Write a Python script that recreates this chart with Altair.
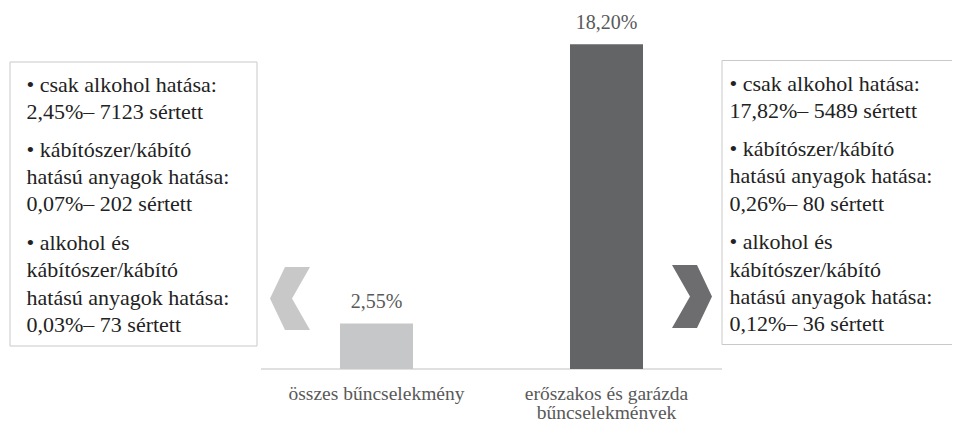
import altair as alt
import pandas as pd

# ---- data ----
categories = ["összes bűncselekmény", "erőszakos és garázda\nbűncselekmények"]
shares = [2.55, 18.20]

left_paras = [
    ["• csak alkohol hatása:", "2,45%– 7123 sértett"],
    ["• kábítószer/kábító", "hatású anyagok hatása:", "0,07%– 202 sértett"],
    ["• alkohol és", "kábítószer/kábító", "hatású anyagok hatása:", "0,03%– 73 sértett"],
]
right_paras = [
    ["• csak alkohol hatása:", "17,82%– 5489 sértett"],
    ["• kábítószer/kábító", "hatású anyagok hatása:", "0,26%– 80 sértett"],
    ["• alkohol és", "kábítószer/kábító", "hatású anyagok hatása:", "0,12%– 36 sértett"],
]

bar_colors = ["#c6c7c9", "#636466"]

# ---- tables ----
bars_df = pd.DataFrame({"cat": categories, "share": shares})
bars_df["label"] = [f"{v:.2f}".replace(".", ",") + "%" for v in shares]
one = pd.DataFrame({"share": [0]})

W, H = 944, 411
FONT = "Liberation Serif"
LABEL_GRAY = "#595959"
TEXT_DARK = "#222222"

x_scale = alt.Scale(domain=categories, range=[253.5, 713.5],
                    paddingInner=0.6826, paddingOuter=0.3413)
y_scale = alt.Scale(domain=[0, 20], range=[361, 4])
x_enc = alt.X("cat:N", scale=x_scale, axis=None)
y_enc = alt.Y("share:Q", scale=y_scale, axis=None)

layers = []

# boxes
layers.append(alt.Chart(one).mark_rect(fill="white", stroke="#c9c9c9", strokeWidth=1).encode(
    x=alt.value(2), x2=alt.value(249), y=alt.value(54), y2=alt.value(338)))
layers.append(alt.Chart(one).mark_rect(fill="white", stroke="#c9c9c9", strokeWidth=1).encode(
    x=alt.value(714), x2=alt.value(960), y=alt.value(52.5), y2=alt.value(336.5)))

# baseline
layers.append(alt.Chart(one).mark_rule(color="#d6d6d6", strokeWidth=1.5).encode(
    x=alt.value(253), x2=alt.value(714), y=y_enc))

# bars
layers.append(alt.Chart(bars_df).mark_bar().encode(
    x=x_enc, y=y_enc,
    color=alt.Color("cat:N", scale=alt.Scale(domain=categories, range=bar_colors), legend=None)))

# value labels
layers.append(alt.Chart(bars_df).mark_text(
    baseline="alphabetic", dy=-15.5, fontSize=20, font=FONT, color=LABEL_GRAY).encode(
    x=x_enc, y=y_enc, text="label:N"))

# category labels
layers.append(alt.Chart(bars_df).mark_text(
    baseline="alphabetic", lineBreak="\n", lineHeight=19.5, fontSize=19.5,
    font=FONT, color=LABEL_GRAY).encode(
    x=x_enc, y=alt.value(391.5), text="cat:N"))

# chevrons
left_chev = "M-0.156,-0.984L0.625,-0.984L0.0625,0L0.625,0.984L-0.156,0.984L-0.625,0Z"
right_chev = "M0.156,-0.984L-0.625,-0.984L-0.0625,0L-0.625,0.984L0.156,0.984L0.625,0Z"
layers.append(alt.Chart(one).mark_point(shape=left_chev, size=4096, filled=True,
                                         fill="#c8c8c8", opacity=1, strokeWidth=0).encode(
    x=alt.value(282), y=alt.value(290.5)))
layers.append(alt.Chart(one).mark_point(shape=right_chev, size=4096, filled=True,
                                         fill="#6d6d70", opacity=1, strokeWidth=0).encode(
    x=alt.value(684), y=alt.value(288.5)))

# box text
LH = 27.3
for paras, x0, ys in [(left_paras, 18.5, [83.7, 148.7, 242.0]),
                      (right_paras, 721.5, [82.7, 148.0, 241.3])]:
    for lines, y0 in zip(paras, ys):
        para_df = pd.DataFrame({"t": ["\n".join(lines)]})
        layers.append(alt.Chart(para_df).mark_text(
            align="left", baseline="alphabetic", lineBreak="\n", lineHeight=LH,
            fontSize=22, font=FONT, color=TEXT_DARK).encode(
            x=alt.value(x0), y=alt.value(y0), text="t:N"))

chart = alt.layer(*layers).properties(
    width=W, height=H, padding=0, autosize=alt.AutoSizeParams(type="none")
).configure_view(stroke=None)

chart.save("out.html", embed_options={"renderer": "svg", "actions": False})
